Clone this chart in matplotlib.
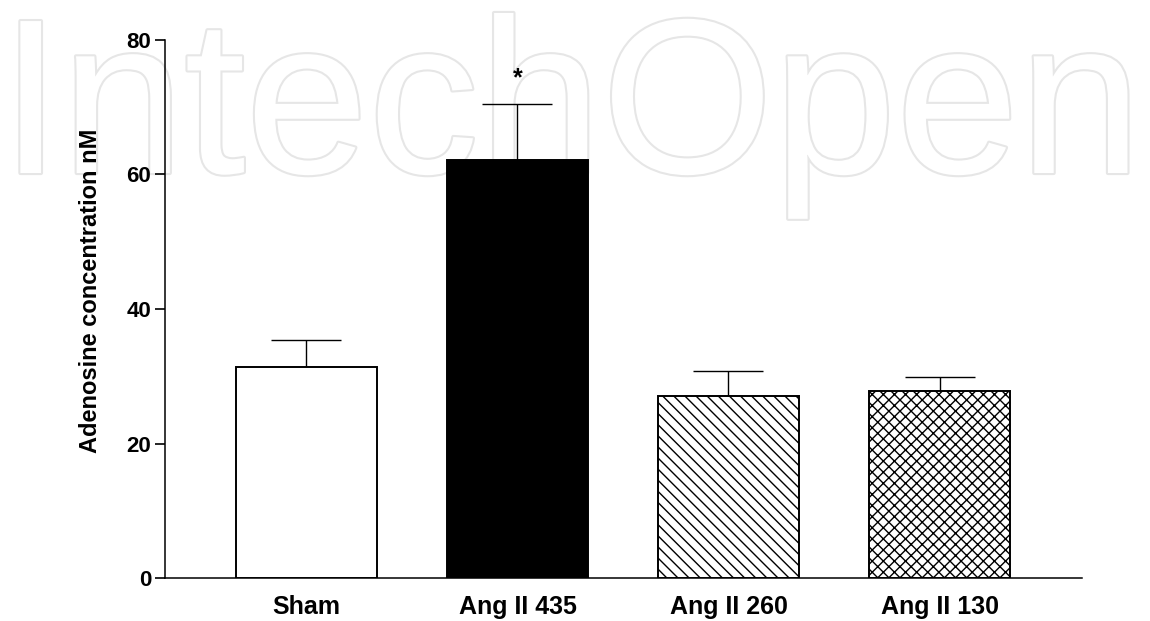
import matplotlib
matplotlib.use("Agg")
import matplotlib.pyplot as plt
import matplotlib.patheffects as pe
import numpy as np

# Adenosine concentration (nM), mean and SEM per group
groups = ["Sham", "Ang II 435", "Ang II 260", "Ang II 130"]
means = [31.4, 62.2, 27.1, 27.8]
sems = [4.0, 8.3, 3.7, 2.1]
fills = ["white", "black", "white", "white"]
hatches = [None, None, "\\\\\\", "xxx"]
significant = [False, True, False, False]
y_ticks = [0, 20, 40, 60, 80]

plt.rcParams["hatch.linewidth"] = 1.0
plt.rcParams["font.family"] = ["Liberation Sans", "DejaVu Sans"]

W, H = 1150, 621
fig = plt.figure(figsize=(W / 100, H / 100), dpi=100)

# Publisher watermark behind the plot
wm = fig.text(0.0, 1 - 173 / H, "IntechOpen", fontsize=159, color="white",
              family="Liberation Sans", ha="left", va="baseline", zorder=-5)
wm.set_path_effects([pe.withStroke(linewidth=3, foreground="#e6e6e6")])

ax = fig.add_axes([165 / W, 43 / H, (1082 - 165) / W, (578 - 40) / H])
ax.patch.set_alpha(0)

x = np.arange(len(groups))
bars = ax.bar(x, means, width=0.667, color=fills, edgecolor="black",
              linewidth=1.4, zorder=3)
for b, h in zip(bars, hatches):
    if h:
        b.set_hatch(h)

ax.errorbar(x, means, yerr=[np.zeros(len(sems)), sems], fmt="none",
            ecolor="black", elinewidth=1.0, capsize=25.5, capthick=1.0,
            zorder=2)

for xi, m, s, sig in zip(x, means, sems, significant):
    if sig:
        ax.annotate("*", (xi, m + s), xytext=(0, 10), textcoords="offset points",
                    ha="center", va="bottom", fontsize=18, fontweight="bold")

ax.set_xlim(-0.67, 3.675)
ax.set_ylim(0, 80)
ax.set_yticks(y_ticks)
ax.set_xticks(x)
ax.set_xticklabels(groups, fontsize=18, fontweight="bold")
ax.tick_params(axis="x", length=0, pad=12)
ax.tick_params(axis="y", length=7, width=1.2, labelsize=16, pad=3)
for t in ax.get_yticklabels():
    t.set_fontweight("bold")

ax.spines["top"].set_visible(False)
ax.spines["right"].set_visible(False)
ax.spines["left"].set_linewidth(1.1)
ax.spines["bottom"].set_linewidth(1.1)

ax.set_ylabel("Adenosine concentration nM", fontsize=17, fontweight="bold")
ax.yaxis.set_label_coords(-0.069, 0.533)

fig.savefig("out.png", dpi=100)
